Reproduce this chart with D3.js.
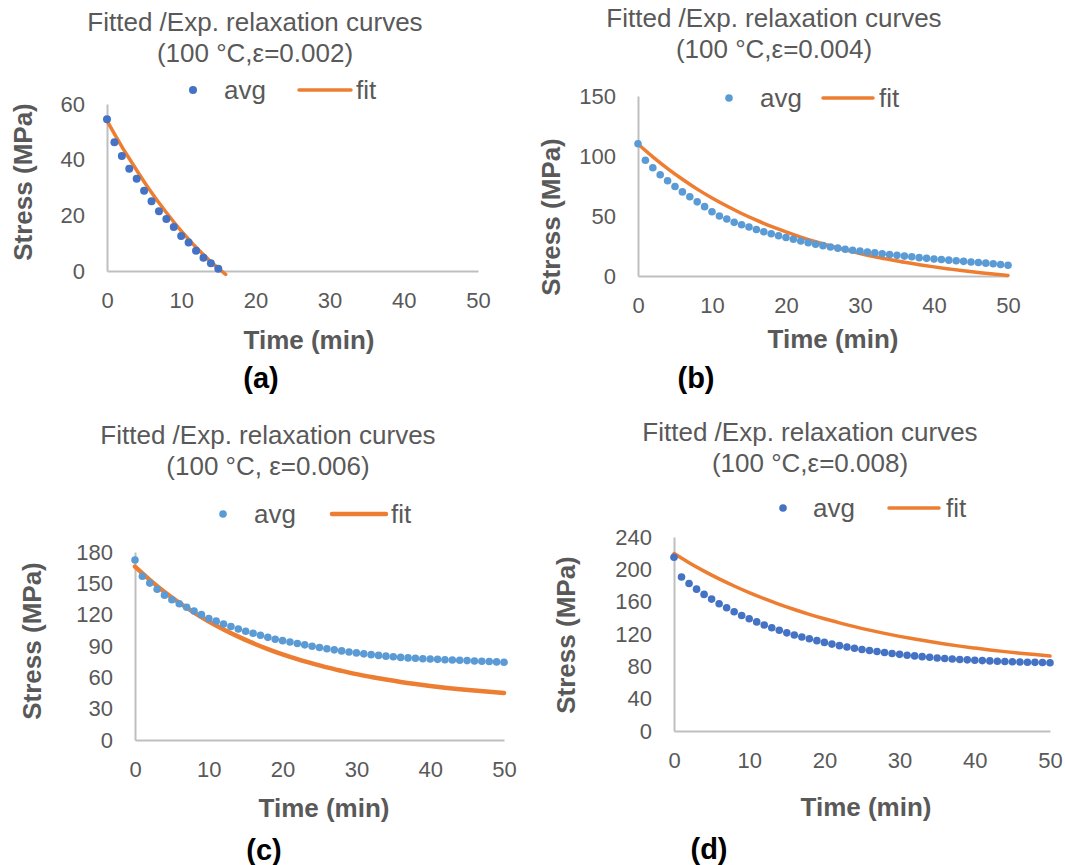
<!DOCTYPE html>
<html>
<head>
<meta charset="utf-8">
<script src="https://cdn.jsdelivr.net/npm/d3@7"></script>
<style>
  html, body { margin: 0; padding: 0; background: #ffffff; }
  text { font-family: "Liberation Sans", Arial, sans-serif; }
</style>
</head>
<body>
<svg id="chart" width="1065" height="865"></svg>
<script>
// ---------------- DATA ----------------
const xTicks = [0, 10, 20, 30, 40, 50];

// (a) 100 °C, ε=0.002
const timeA = [0,1,2,3,4,5,6,7,8,9,10,11,12,13,14,15];
const avgA  = [54.5,46.3,41.3,36.7,33.1,28.8,25.1,21.5,18.7,15.8,12.6,10.2,7.3,4.8,2.8,0.8];
const fitTimeA = [0,1,2,3,4,5,6,7,8,9,10,11,12,13,14,15,16];
const fitA  = [54.0,49.3,44.7,40.4,36.2,32.1,28.2,24.5,21.0,17.6,14.4,11.4,8.5,5.9,3.3,1.0,-1.2];
const yTicksA = [0, 20, 40, 60];

// shared time grid for (b)-(d)
const time50 = [0,1,2,3,4,5,6,7,8,9,10,11,12,13,14,15,16,17,18,19,20,21,22,23,24,25,
                26,27,28,29,30,31,32,33,34,35,36,37,38,39,40,41,42,43,44,45,46,47,48,49,50];
const fitTime50 = [0,2,4,6,8,10,12,14,16,18,20,22,24,26,28,30,32,34,36,38,40,42,44,46,48,50];

// (b) 100 °C, ε=0.004
const avgB = [110.2,96.5,90.2,84.4,79.4,74.6,70.1,66.0,61.8,57.8,53.6,50.0,47.5,44.7,42.7,40.8,38.8,36.9,35.2,33.5,
              32.1,30.6,29.2,27.8,26.5,25.3,24.2,23.2,22.3,21.5,20.7,20.0,19.3,18.6,17.9,17.2,16.6,16.0,15.3,14.7,
              14.2,13.7,13.2,12.7,12.2,11.7,11.2,10.7,10.2,9.6,9.0];
const fitB = [110.0,99.3,89.5,80.6,72.4,65.0,58.3,52.1,46.5,41.3,36.7,32.4,28.5,25.0,21.8,18.8,16.1,13.7,11.4,9.4,
              7.6,5.9,4.3,2.9,1.6,0.5];
const yTicksB = [0, 50, 100, 150];

// (c) 100 °C, ε=0.006
const avgC = [172.4,156.8,150.2,144.4,138.7,134.3,130.5,127.1,123.4,120.0,116.3,113.8,111.1,108.6,106.3,104.1,102.2,100.3,98.3,96.5,
              95.1,93.8,92.4,91.1,89.8,88.6,87.4,86.3,85.3,84.3,83.4,82.5,81.7,81.0,80.3,79.7,79.1,78.6,78.2,77.8,
              77.5,77.2,76.9,76.6,76.3,76.0,75.7,75.4,75.1,74.8,74.5];
const fitC = [166.0,153.3,141.7,131.4,122.0,113.5,105.9,99.0,92.7,87.1,82.0,77.4,73.3,69.5,66.2,63.1,60.4,57.9,55.6,53.6,
              51.8,50.1,48.6,47.3,46.1,45.0];
const yTicksC = [0, 30, 60, 90, 120, 150, 180];

// (d) 100 °C, ε=0.008
const avgD = [215.0,190.5,182.5,175.5,169.0,163.2,157.5,152.5,147.6,142.8,138.8,135.0,131.2,127.8,124.6,121.4,118.7,116.3,114.1,111.8,
              109.6,107.5,105.6,104.0,102.4,100.9,99.6,98.3,97.1,95.9,94.8,93.8,92.9,92.0,91.2,90.4,89.7,89.1,88.5,88.0,
              87.5,87.1,86.7,86.3,86.0,85.7,85.4,85.1,84.9,84.7,84.5];
const fitD = [219.5,208.2,197.8,188.2,179.4,171.2,163.7,156.7,150.3,144.3,138.8,133.8,129.1,124.8,120.8,117.1,113.7,110.6,107.7,105.0,
              102.6,100.3,98.2,96.3,94.5,92.8];
const yTicksD = [0, 40, 80, 120, 160, 200, 240];

const titleLine1 = "Fitted /Exp. relaxation curves";
const subtitles = ["(100 °C,ε=0.002)", "(100 °C,ε=0.004)", "(100 °C, ε=0.006)", "(100 °C,ε=0.008)"];
const panelLabels = ["(a)", "(b)", "(c)", "(d)"];
const legendNames = ["avg", "fit"];
const xTitle = "Time (min)";
const yTitle = "Stress (MPa)";

// ---------------- STYLE ----------------
const GREY = "#595959";
const AXIS = "#BFBFBF";
const ORANGE = "#ED7D31";

const svg = d3.select("#chart");
svg.append("rect").attr("width", 1065).attr("height", 865).attr("fill", "#fff");

const panels = [
  { t: timeA, avg: avgA, ft: fitTimeA, fit: fitA, yTicks: yTicksA, yMax: 60,
    x0: 107, x1: 478, y0: 271, y1: 104, dot: "#4472C4", lw: 3.5, r: 4,
    titleX: 255, t1: 31, t2: 62, yTitleX: 23, yTitleY: 182, xTitleX: 309, xTitleY: 349,
    legDotX: 193, legY: 90, legAvgX: 224, legLineX0: 299, legLineX1: 351, legFitX: 356,
    labelX: 261, labelY: 388, sub: 0 },
  { t: time50, avg: avgB, ft: fitTime50, fit: fitB, yTicks: yTicksB, yMax: 150,
    x0: 638, x1: 1008, y0: 276, y1: 96, dot: "#5B9BD5", lw: 3.5, r: 3.8,
    titleX: 774, t1: 27, t2: 58, yTitleX: 551, yTitleY: 217, xTitleX: 833, xTitleY: 348,
    legDotX: 729, legY: 98, legAvgX: 760, legLineX0: 823, legLineX1: 873, legFitX: 879,
    labelX: 696, labelY: 388, sub: 1 },
  { t: time50, avg: avgC, ft: fitTime50, fit: fitC, yTicks: yTicksC, yMax: 180,
    x0: 135, x1: 504, y0: 740, y1: 552, dot: "#5B9BD5", lw: 4.5, r: 3.8,
    titleX: 268, t1: 444, t2: 475, yTitleX: 32, yTitleY: 641, xTitleX: 324, xTitleY: 817,
    legDotX: 223, legY: 514, legAvgX: 254, legLineX0: 332, legLineX1: 386, legFitX: 391,
    labelX: 264, labelY: 860, sub: 2 },
  { t: time50, avg: avgD, ft: fitTime50, fit: fitD, yTicks: yTicksD, yMax: 240,
    x0: 674, x1: 1050, y0: 731, y1: 537, dot: "#4472C4", lw: 3.5, r: 3.8,
    titleX: 810, t1: 441, t2: 472, yTitleX: 566, yTitleY: 635, xTitleX: 866, xTitleY: 816,
    legDotX: 783, legY: 508, legAvgX: 813, legLineX0: 889, legLineX1: 939, legFitX: 946,
    labelX: 709, labelY: 859, sub: 3 }
];

panels.forEach(p => {
  const g = svg.append("g");
  const x = d3.scaleLinear().domain([0, 50]).range([p.x0, p.x1]);
  const y = d3.scaleLinear().domain([0, p.yMax]).range([p.y0, p.y1]);

  // titles
  g.append("text").attr("x", p.titleX).attr("y", p.t1).attr("text-anchor", "middle")
    .attr("font-size", 26).attr("fill", GREY).text(titleLine1);
  g.append("text").attr("x", p.titleX).attr("y", p.t2).attr("text-anchor", "middle")
    .attr("font-size", 26).attr("fill", GREY).text(subtitles[p.sub]);

  // axes
  const ax = g.append("g").attr("transform", `translate(0,${p.y0})`)
    .call(d3.axisBottom(x).tickValues(xTicks).tickSize(0).tickSizeOuter(0).tickPadding(21));
  const ay = g.append("g").attr("transform", `translate(${p.x0},0)`)
    .call(d3.axisLeft(y).tickValues(p.yTicks).tickSize(0).tickSizeOuter(0).tickPadding(22));
  [ax, ay].forEach(a => {
    a.select(".domain").attr("stroke", AXIS).attr("stroke-width", 2);
    a.selectAll("text").attr("font-size", 22).attr("fill", GREY)
      .attr("font-family", '"Liberation Sans", Arial, sans-serif');
  });

  // axis titles
  g.append("text").attr("x", p.xTitleX).attr("y", p.xTitleY).attr("text-anchor", "middle")
    .attr("font-size", 26).attr("font-weight", "bold").attr("fill", GREY).text(xTitle);
  g.append("text").attr("transform", `translate(${p.yTitleX + 9},${p.yTitleY}) rotate(-90)`)
    .attr("text-anchor", "middle").attr("font-size", 26).attr("font-weight", "bold")
    .attr("fill", GREY).text(yTitle);

  // fit line
  const fitPts = p.ft.map((t, i) => [t, p.fit[i]]);
  g.append("path").datum(fitPts)
    .attr("fill", "none").attr("stroke", ORANGE).attr("stroke-width", p.lw)
    .attr("stroke-linecap", "round")
    .attr("d", d3.line().x(d => x(d[0])).y(d => y(d[1])).curve(d3.curveMonotoneX));

  // avg dots
  const avgPts = p.t.map((t, i) => [t, p.avg[i]]);
  g.selectAll("circle.avg").data(avgPts).join("circle").attr("class", "avg")
    .attr("cx", d => x(d[0])).attr("cy", d => y(d[1])).attr("r", p.r).attr("fill", p.dot);

  // legend
  g.append("circle").attr("cx", p.legDotX).attr("cy", p.legY).attr("r", p.r).attr("fill", p.dot);
  g.append("text").attr("x", p.legAvgX).attr("y", p.legY + 9).attr("font-size", 26)
    .attr("fill", GREY).text(legendNames[0]);
  g.append("line").attr("x1", p.legLineX0).attr("x2", p.legLineX1)
    .attr("y1", p.legY).attr("y2", p.legY).attr("stroke", ORANGE).attr("stroke-width", p.lw)
    .attr("stroke-linecap", "round");
  g.append("text").attr("x", p.legFitX).attr("y", p.legY + 9).attr("font-size", 26)
    .attr("fill", GREY).text(legendNames[1]);

  // panel label
  g.append("text").attr("x", p.labelX).attr("y", p.labelY).attr("text-anchor", "middle")
    .attr("font-size", 29).attr("font-weight", "bold").attr("fill", "#000").text(panelLabels[p.sub]);
});
</script>
</body>
</html>
